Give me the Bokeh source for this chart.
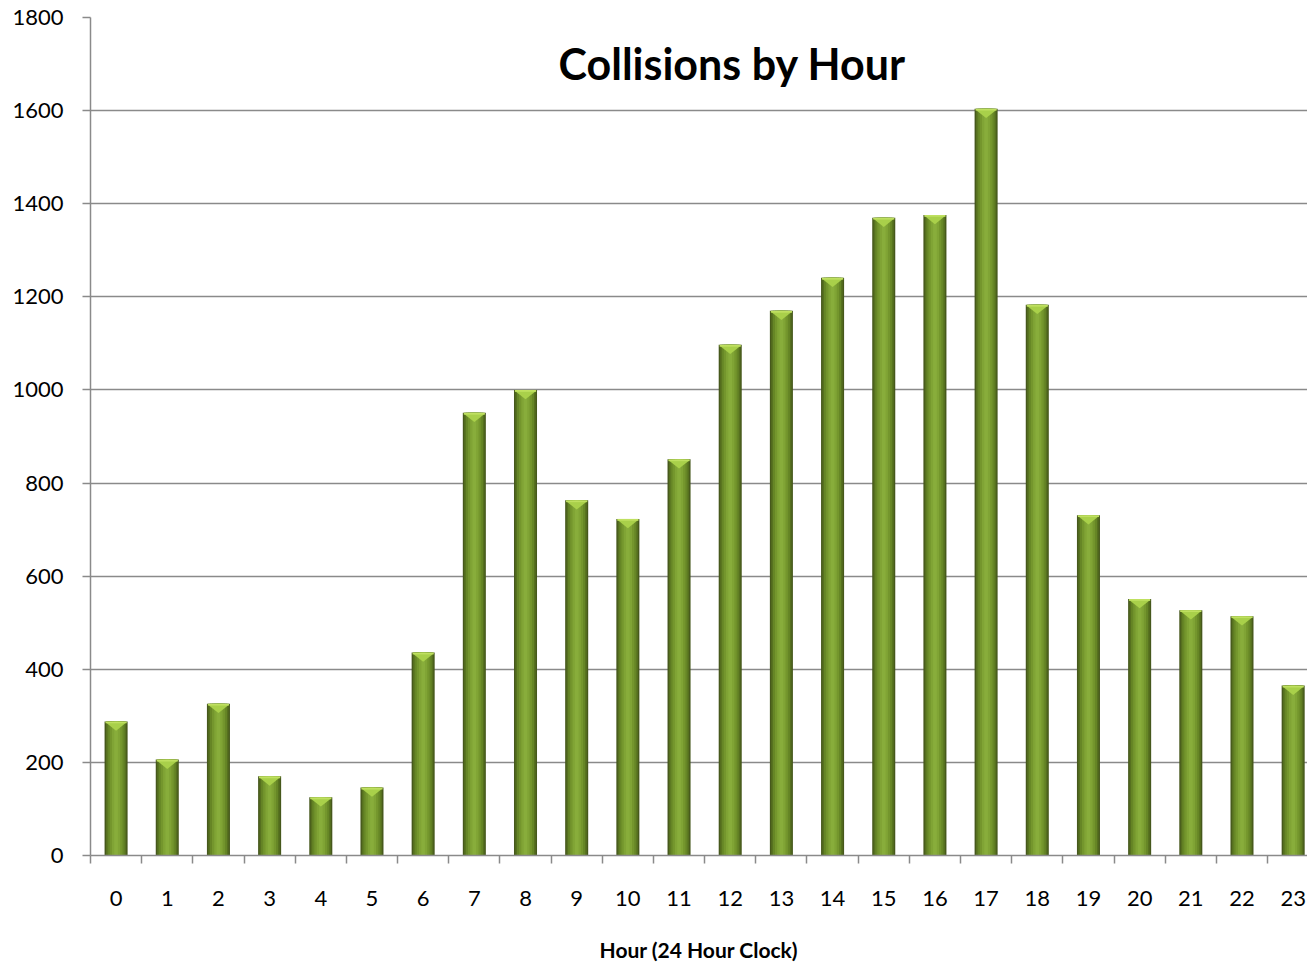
from bokeh.plotting import figure
from bokeh.models import FixedTicker, Label, Range1d
from bokeh.embed import file_html
from bokeh.resources import INLINE

hours = list(range(24))
hour_labels = [str(h) for h in hours]
collisions = [288, 206, 326, 170, 125, 146, 436, 951, 1000, 763, 723, 851,
              1097, 1170, 1241, 1370, 1376, 1604, 1183, 731, 551, 527, 514, 365]
y_ticks = [0, 200, 400, 600, 800, 1000, 1200, 1400, 1600, 1800]

FONT = "Lato"
GRID = "#8a8a8a"

p = figure(width=1307, height=966, output_backend="svg", toolbar_location=None,
           x_range=Range1d(-0.5, 23.28), y_range=Range1d(0, 1800),
           min_border_left=90, min_border_right=0, min_border_top=17, min_border_bottom=111)
p.outline_line_color = None
p.background_fill_color = "white"

# bar body: layered widths to imitate the cylindrical gradient
bar_w = 0.45
layers = [(1.00, "#46581c"), (0.88, "#56701f"), (0.74, "#668626"),
          (0.56, "#74962d"), (0.36, "#80a435"), (0.16, "#88ad3b")]
for frac, col in layers:
    p.vbar(x=hours, top=collisions, bottom=0, width=bar_w * frac,
           fill_color=col, line_color=None)

# bevelled top (downward triangle)
bevel = 18
xs = [[h - bar_w / 2 + 0.02, h + bar_w / 2 - 0.02, h] for h in hours]
ys = [[v - 2, v - 2, v - 2 - bevel] for v in collisions]
p.patches(xs=xs, ys=ys, fill_color="#a9d04a", line_color=None)
p.vbar(x=hours, top=collisions, bottom=[v - 4 for v in collisions],
       width=bar_w * 0.92, fill_color="#bfe060", line_color=None)

# axes
p.yaxis.ticker = FixedTicker(ticks=y_ticks)
p.yaxis.major_tick_out = 8
p.yaxis.major_tick_in = 0
p.yaxis.minor_tick_line_color = None
p.yaxis.axis_line_color = GRID
p.yaxis.axis_line_width = 1.5
p.yaxis.major_tick_line_color = GRID
p.yaxis.major_tick_line_width = 1.5
p.yaxis.major_label_text_font = FONT
p.yaxis.major_label_text_font_size = "22px"
p.yaxis.major_label_text_color = "black"
p.yaxis.major_label_standoff = 19

p.xaxis.ticker = FixedTicker(ticks=hours, minor_ticks=[h - 0.5 for h in range(25)])
p.xaxis.major_label_overrides = {h: lbl for h, lbl in zip(hours, hour_labels)}
p.xaxis.major_tick_line_color = None
p.xaxis.major_tick_out = 0
p.xaxis.major_tick_in = 0
p.xaxis.minor_tick_out = 8
p.xaxis.minor_tick_in = 0
p.xaxis.minor_tick_line_color = GRID
p.xaxis.minor_tick_line_width = 1.5
p.xaxis.axis_line_color = GRID
p.xaxis.axis_line_width = 1.5
p.xaxis.major_label_text_font = FONT
p.xaxis.major_label_text_font_size = "22px"
p.xaxis.major_label_text_color = "black"
p.xaxis.major_label_standoff = 27
p.xaxis.axis_label = "Hour (24 Hour Clock)"
p.xaxis.axis_label_text_font = FONT
p.xaxis.axis_label_text_font_style = "bold"
p.xaxis.axis_label_text_font_size = "21px"
p.xaxis.axis_label_text_color = "black"
p.xaxis.axis_label_standoff = 28

p.xgrid.grid_line_color = None
p.ygrid.grid_line_color = GRID
p.ygrid.grid_line_width = 1.5
p.ygrid.ticker = FixedTicker(ticks=y_ticks)

p.add_layout(Label(x=12.04, y=1701, text="Collisions by Hour", text_font=FONT,
                   text_font_style="bold", text_font_size="43px", text_color="black",
                   text_align="center", text_baseline="middle"))

open("out.html", "w").write(file_html(p, INLINE))
